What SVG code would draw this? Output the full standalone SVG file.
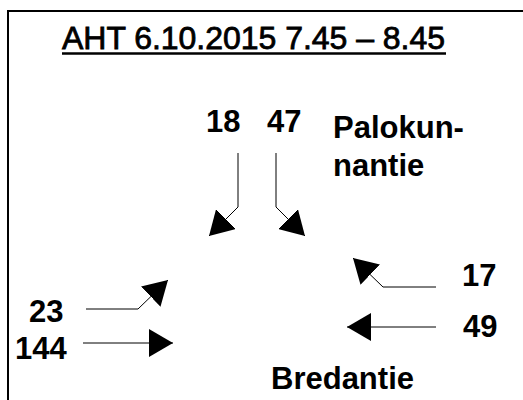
<svg xmlns="http://www.w3.org/2000/svg" width="523" height="400" viewBox="0 0 523 400">
<style>
.t{font-family:"Liberation Sans",Arial,sans-serif;fill:#000}
.lbl{font-size:31px;font-weight:bold}
.cn{fill:none;stroke:#000;stroke-width:1}
</style>
<defs>
<marker id="ah" viewBox="0 0 24 28" refX="24" refY="14" markerWidth="24" markerHeight="28" markerUnits="userSpaceOnUse" orient="auto">
<path d="M0,0 L24,14 L0,28 Z" fill="#000"/>
</marker>
</defs>
<rect width="523" height="400" fill="#fff"/>
<g id="frame"><path d="M8,400 L8,11 L523,11" fill="none" stroke="#000" stroke-width="2"/></g>
<g id="title"><text class="t" x="62" y="49" font-size="32" stroke="#000" stroke-width="0.8" textLength="383" lengthAdjust="spacing">AHT 6.10.2015 7.45 – 8.45</text><line x1="62" y1="53.5" x2="446" y2="53.5" stroke="#000" stroke-width="2.5"/></g>
<g id="n18"><text class="t lbl" x="206" y="132">18</text></g>
<g id="n47"><text class="t lbl" x="267" y="132">47</text></g>
<g id="palokunnantie"><text class="t lbl" x="333" y="138">Palokun-</text><text class="t lbl" x="333" y="176">nantie</text></g>
<g id="n17"><text class="t lbl" x="462" y="286">17</text></g>
<g id="n49"><text class="t lbl" x="463" y="337">49</text></g>
<g id="n23"><text class="t lbl" x="29" y="322">23</text></g>
<g id="n144"><text class="t lbl" x="15" y="359">144</text></g>
<g id="bredantie"><text class="t lbl" x="271" y="389">Bredantie</text></g>
<g id="connectors">
<path class="cn" d="M238,153 L238,207 L209,236" marker-end="url(#ah)"/>
<path class="cn" d="M276,153 L276,207 L305,236" marker-end="url(#ah)"/>
<path class="cn" d="M86,309 L138,309 L168,280" marker-end="url(#ah)"/>
<path class="cn" d="M83,343 L173,343" marker-end="url(#ah)"/>
<path class="cn" d="M436,287 L383,287 L353,258" marker-end="url(#ah)"/>
<path class="cn" d="M436,327 L347,327" marker-end="url(#ah)"/>
</g>
</svg>
